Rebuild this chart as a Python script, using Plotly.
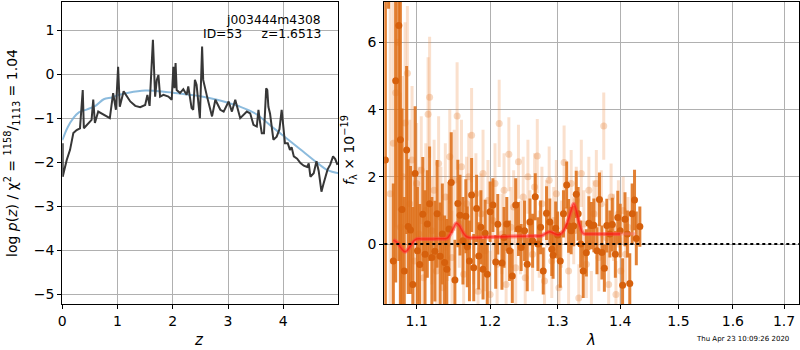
import plotly.graph_objects as go

# ---------------- left panel: log p(z) ----------------
pz_z = [0.0, 0.007, 0.007, 0.08, 0.14, 0.20, 0.26, 0.32, 0.37, 0.39, 0.47, 0.53, 0.56, 0.59, 0.65,
        0.71, 0.80, 0.86, 0.92, 0.97, 1.01, 1.04, 1.11, 1.17, 1.23, 1.32, 1.41, 1.50, 1.54, 1.58,
        1.64, 1.68, 1.71, 1.74, 1.77, 1.83, 1.92, 1.98, 2.01, 2.03, 2.05, 2.07, 2.13, 2.19, 2.25,
        2.28, 2.34, 2.37, 2.40, 2.43, 2.49, 2.53, 2.55, 2.62, 2.71, 2.77, 2.86, 2.92, 3.01, 3.07,
        3.13, 3.22, 3.28, 3.34, 3.40, 3.46, 3.52, 3.55, 3.58, 3.61, 3.65, 3.69, 3.71, 3.73, 3.76,
        3.82, 3.88, 3.93, 3.97, 4.00, 4.03, 4.08, 4.12, 4.15, 4.19, 4.25, 4.31, 4.37, 4.43, 4.46,
        4.49, 4.55, 4.60, 4.64, 4.69, 4.73, 4.80, 4.85, 4.90, 4.94, 4.98]
pz_logp = [-2.20, -1.57, -2.33, -1.95, -1.72, -1.34, -1.27, -1.23, -0.36, -1.23, -1.11, -1.04, -0.58,
           -1.11, -0.85, -0.89, -0.96, -1.00, -0.43, -0.81, 0.17, -0.74, -0.39, -0.51, -0.62, -0.72,
           -0.75, -0.70, -0.47, -0.72, 0.78, -0.51, -0.13, -0.02, -0.51, -0.47, -0.51, -0.58, 0.17,
           -0.32, 0.25, -0.36, -0.43, -0.34, -0.47, -0.28, -0.77, -0.81, -0.13, -0.24, -1.00, 0.63,
           -0.13, -0.51, -0.96, -0.58, -0.81, -0.85, -0.62, -0.85, -0.58, -1.00, -0.92, -0.85, -0.89,
           -1.15, -1.19, -0.81, -1.10, -1.34, -1.34, -0.32, -0.36, -0.74, -0.90, -1.49, -1.42, -1.25,
           -0.81, -1.25, -1.57, -1.57, -1.72, -1.66, -1.87, -1.92, -2.02, -2.08, -2.11, -2.03, -2.33,
           -2.25, -1.98, -2.20, -2.67, -2.48, -2.17, -2.05, -1.87, -1.93, -2.06]

prior_z = [0.0, 0.1, 0.2, 0.3, 0.45, 0.6, 0.75, 0.9, 1.0, 1.2, 1.5, 1.7, 2.0, 2.5, 2.8, 3.0, 3.2,
           3.5, 3.8, 4.0, 4.3, 4.6, 4.8, 5.0]
prior_logp = [-1.50, -1.20, -1.00, -0.87, -0.80, -0.72, -0.57, -0.53, -0.48, -0.42, -0.37, -0.38,
              -0.42, -0.50, -0.58, -0.65, -0.73, -0.90, -1.20, -1.40, -1.70, -2.00, -2.18, -2.25]

# ---------------- right panel: spectrum ----------------
good_wave = [1.060, 1.064, 1.070, 1.073, 1.077, 1.079, 1.081, 1.084, 1.087, 1.089, 1.092, 1.095,
             1.098, 1.101, 1.104, 1.108, 1.111, 1.114, 1.117, 1.120, 1.124, 1.127, 1.131, 1.134,
             1.137, 1.140, 1.143, 1.146, 1.151, 1.155, 1.158, 1.162, 1.166, 1.168, 1.171, 1.174,
             1.177, 1.181, 1.184, 1.187, 1.190, 1.193, 1.196, 1.200, 1.204, 1.208, 1.211, 1.217,
             1.220, 1.224, 1.228, 1.232, 1.237, 1.241, 1.245, 1.250, 1.254, 1.258, 1.262, 1.266,
             1.270, 1.274, 1.278, 1.283, 1.288, 1.291, 1.293, 1.297, 1.300, 1.304, 1.309, 1.314,
             1.317, 1.321, 1.325, 1.329, 1.332, 1.336, 1.340, 1.345, 1.349, 1.353, 1.357, 1.362,
             1.366, 1.370, 1.374, 1.378, 1.383, 1.387, 1.392, 1.396, 1.400, 1.404, 1.408, 1.412,
             1.416, 1.420, 1.424, 1.427, 1.433]
good_flux = [2.5, 9.0, -0.5, 4.86, 6.5, 3.1, 1.03, -0.8, 2.8, 0.52, 0.42, -1.2,
             2.1, -0.2, -0.61, 0.89, -0.3, 0.6, 1.2, -0.4, -0.21, 0.9, -0.36, 0.3,
             -0.55, -0.75, 0.45, 1.83, -1.07, 1.21, 0.86, 0.1, 0.83, -0.08, -0.5, 1.46,
             -0.7, 1.06, -0.35, 0.5, -0.75, 0.32, -0.9, 0.96, 1.16, -0.53, 0.59, -0.56,
             0.2, 0.6, -0.2, -0.95, 1.16, 0.45, -0.1, 0.4, -0.6, 0.66, 0.1, 1.41,
             0.0, 0.5, -0.8, 0.92, 0.66, -0.15, -0.33, 0.47, 0.27, -0.5, 0.9, 1.76,
             0.54, 0.4, 0.54, 1.48, 0.9, 0.0, -0.8, -0.26, 0.62, 0.55, 0.56, -0.2,
             1.33, -0.25, -0.72, 0.55, 0.3, 0.58, -0.3, 0.79, 0.4, -1.22, 0.74, 0.3,
             -1.17, 0.9, 1.31, 0.17, 0.52]
good_err = [9.0, 2.0, 2.3, 6.0, 7.0, 5.0, 3.0, 2.2, 2.5, 2.0, 1.9, 2.3,
            2.0, 1.9, 1.8, 1.7, 1.9, 1.6, 1.7, 1.8, 1.5, 1.6, 1.6, 1.5,
            1.4, 1.5, 1.4, 1.5, 1.2, 1.3, 1.2, 1.3, 1.1, 1.2, 1.2, 1.1,
            1.0, 1.0, 1.0, 1.1, 0.9, 1.0, 0.9, 0.9, 0.8, 0.8, 0.9, 0.8,
            0.9, 0.8, 0.9, 0.8, 0.8, 0.8, 0.7, 0.9, 0.8, 0.7, 0.8, 0.7,
            0.8, 0.8, 0.7, 0.8, 0.7, 0.8, 0.7, 0.8, 0.7, 0.8, 0.7, 0.7,
            0.8, 0.7, 0.6, 0.7, 0.8, 0.7, 0.8, 0.7, 0.8, 0.7, 0.8, 0.7,
            0.8, 0.8, 0.7, 0.8, 0.7, 0.8, 0.7, 0.8, 0.8, 0.8, 0.8, 0.7,
            0.9, 0.9, 0.9, 0.8, 0.6]

faint_wave = [1.066, 1.070, 1.073, 1.076, 1.079, 1.082, 1.085, 1.088, 1.091, 1.094, 1.097, 1.100,
              1.103, 1.106, 1.109, 1.112, 1.115, 1.117, 1.120, 1.123, 1.126, 1.129, 1.132, 1.135,
              1.138, 1.141, 1.144, 1.147, 1.150, 1.154, 1.157, 1.160, 1.163, 1.167, 1.170, 1.174,
              1.177, 1.180, 1.183, 1.187, 1.190, 1.193, 1.197, 1.200, 1.204, 1.207, 1.210, 1.213,
              1.217, 1.220, 1.223, 1.227, 1.230, 1.234, 1.237, 1.241, 1.244, 1.248, 1.251, 1.255,
              1.258, 1.262, 1.265, 1.269, 1.272, 1.276, 1.280, 1.283, 1.287, 1.291, 1.294, 1.298,
              1.302, 1.306, 1.310, 1.313, 1.317, 1.321, 1.325, 1.329, 1.333, 1.337, 1.341, 1.345,
              1.349, 1.353, 1.357, 1.361, 1.365, 1.369, 1.373, 1.377, 1.381, 1.385, 1.389, 1.393,
              1.397, 1.401, 1.405, 1.409, 1.413]
faint_flux = [1.5, 3.0, 4.5, 6.0, 0.5, 2.0, 3.6, 5.08, 1.2, 2.5, -0.5, 1.8,
              0.3, 2.2, -1.0, 1.0, 3.86, 4.37, 0.4, 1.6, -0.8, 2.4, 0.8, -1.3,
              1.4, 0.2, 2.6, -0.4, 1.9, 3.81, 0.6, 2.3, -0.9, 1.2, 2.0, 3.24,
              0.1, 1.5, -1.4, 0.9, 2.1, -0.2, 1.3, -1.5, 0.7, 1.8, -0.6, 3.59,
              0.3, 1.6, -1.2, 2.67, 0.5, 1.1, -0.7, 2.45, 0.2, 1.4, -1.0, 2.0,
              0.6, -0.3, 1.7, 2.62, 0.0, 1.2, -1.1, 0.9, 1.9, -0.5, 0.7, 1.5,
              -1.3, 0.3, 2.43, 1.0, -0.8, 1.8, 0.4, 1.3, -1.6, 2.1, 0.6, -0.6,
              1.6, -1.9, 0.9, 1.8, -0.4, 1.2, 3.51, 0.2, -1.2, 1.4, 0.5, -1.5,
              0.9, -0.8, 1.0, -0.3, 0.5]
faint_err = [8.0, 6.0, 4.0, 5.0, 4.0, 3.0, 3.0, 2.0, 2.5, 2.2, 2.4, 1.8,
             2.0, 1.6, 1.8, 2.0, 1.7, 1.8, 1.6, 1.5, 1.6, 1.4, 1.5, 1.5,
             1.6, 1.3, 1.4, 1.4, 1.5, 1.6, 1.3, 1.4, 1.3, 1.4, 1.3, 1.4,
             1.3, 1.2, 1.3, 1.2, 1.3, 1.2, 1.2, 1.3, 1.2, 1.2, 1.2, 1.3,
             1.2, 1.1, 1.2, 1.1, 1.2, 1.1, 1.2, 1.1, 1.1, 1.2, 1.1, 1.1,
             1.0, 1.1, 1.0, 1.1, 1.0, 1.1, 1.0, 1.0, 1.0, 1.1, 1.0, 1.0,
             1.0, 1.0, 1.1, 1.0, 1.0, 1.0, 1.0, 1.0, 1.0, 1.0, 1.0, 1.0,
             1.0, 1.1, 1.0, 1.0, 1.0, 1.0, 1.0, 1.0, 1.0, 1.0, 1.0, 1.0,
             1.0, 1.0, 1.0, 0.9, 0.9]

model_wave = [1.070, 1.075, 1.080, 1.085, 1.090, 1.095, 1.100, 1.110, 1.120, 1.130, 1.140, 1.145,
              1.150, 1.153, 1.157, 1.162, 1.167, 1.172, 1.180, 1.200, 1.220, 1.240, 1.260, 1.275,
              1.283, 1.288, 1.293, 1.300, 1.306, 1.312, 1.317, 1.321, 1.325, 1.329, 1.334, 1.340,
              1.350, 1.370, 1.390, 1.400]
model_flux = [0.12, 0.05, -0.12, -0.23, -0.12, 0.05, 0.15, 0.15, 0.15, 0.16, 0.17, 0.30,
              0.52, 0.62, 0.55, 0.35, 0.22, 0.19, 0.20, 0.21, 0.22, 0.23, 0.24, 0.25,
              0.33, 0.37, 0.33, 0.28, 0.32, 0.50, 0.75, 1.00, 1.20, 1.00, 0.60, 0.32,
              0.30, 0.30, 0.30, 0.30]
model2_wave = [1.390, 1.400, 1.410, 1.420, 1.426]
model2_flux = [0.30, 0.30, 0.30, 0.31, 0.31]

z_ticks = [0, 1, 2, 3, 4]
logp_ticks = [-5, -4, -3, -2, -1, 0, 1]
wave_ticks = [1.1, 1.2, 1.3, 1.4, 1.5, 1.6, 1.7]
flux_ticks = [0, 2, 4, 6]

fig = go.Figure()

fig.add_trace(go.Scatter(x=prior_z, y=prior_logp, mode="lines", line=dict(color="rgba(120,175,215,0.85)", width=2, shape="spline"),
                         xaxis="x", yaxis="y", showlegend=False))
fig.add_trace(go.Scatter(x=pz_z, y=pz_logp, mode="lines", line=dict(color="rgb(55,55,55)", width=2),
                         xaxis="x", yaxis="y", showlegend=False))

fig.add_trace(go.Scatter(x=faint_wave, y=faint_flux, mode="markers",
                         marker=dict(size=7, color="rgba(230,125,50,0.3)"),
                         error_y=dict(type="data", array=faint_err, color="rgba(235,140,70,0.27)", thickness=3, width=0),
                         xaxis="x2", yaxis="y2", showlegend=False))
fig.add_trace(go.Scatter(x=good_wave, y=good_flux, mode="markers",
                         marker=dict(size=7, color="rgb(214,96,12)"),
                         error_y=dict(type="data", array=good_err, color="rgba(222,112,25,0.88)", thickness=3, width=0),
                         xaxis="x2", yaxis="y2", showlegend=False))
fig.add_trace(go.Scatter(x=model2_wave, y=model2_flux, mode="lines", line=dict(color="rgba(255,120,120,0.45)", width=3),
                         xaxis="x2", yaxis="y2", showlegend=False))
fig.add_trace(go.Scatter(x=model_wave, y=model_flux, mode="lines", line=dict(color="rgba(255,60,60,0.55)", width=4, shape="spline"),
                         xaxis="x2", yaxis="y2", showlegend=False))
fig.add_trace(go.Scatter(x=model_wave, y=model_flux, mode="lines", line=dict(color="rgba(255,0,0,0.5)", width=1.5, shape="spline"),
                         xaxis="x2", yaxis="y2", showlegend=False))

axis_common = dict(showline=True, linecolor="black", linewidth=1, mirror=True, ticks="outside",
                   ticklen=4, tickcolor="black", showgrid=True, gridcolor="#b0b0b0", gridwidth=1,
                   zeroline=False, automargin=False,
                   tickfont=dict(family="DejaVu Sans", size=14, color="black"))

fig.update_layout(
    template="none",
    width=800, height=350, margin=dict(l=0, r=0, t=0, b=0, pad=0),
    paper_bgcolor="white", plot_bgcolor="white",
    font=dict(family="DejaVu Sans", size=14, color="black"),
    xaxis=dict(domain=[62.3 / 800, 338.3 / 800], range=[0, 4.995], tickvals=z_ticks, anchor="y", **axis_common),
    yaxis=dict(domain=[(350 - 304.3) / 350, (350 - 2) / 350], range=[-5.23, 1.64], tickvals=logp_ticks, anchor="x", **axis_common),
    xaxis2=dict(domain=[384.3 / 800, 799.3 / 800], type="log", range=[0.02474, 0.2383], tickvals=wave_ticks,
                ticktext=[f"{v:.1f}" for v in wave_ticks], anchor="y2", **axis_common),
    yaxis2=dict(domain=[(350 - 304.3) / 350, (350 - 2) / 350], range=[-1.79, 7.2], tickvals=flux_ticks, anchor="x2", **axis_common),
    shapes=[dict(type="line", xref="x2 domain", x0=0, x1=1, yref="y2", y0=0, y1=0,
                 line=dict(color="black", width=2, dash="dot"), layer="above")],
)

ann = [
    dict(text="j003444m4308", x=323 / 800, y=1 - 20 / 350, xanchor="right", yanchor="middle", font=dict(size=12.3)),
    dict(text="ID=53     z=1.6513", x=323 / 800, y=1 - 34 / 350, xanchor="right", yanchor="middle", font=dict(size=12.3)),
    dict(text="log <i>p</i>(<i>z</i>) / χ<sup>2</sup> = <sup>1158</sup>/<sub>1113</sub> = 1.04", x=12 / 800, y=1 - 153 / 350,
         textangle=-90, xanchor="center", yanchor="middle", font=dict(size=14)),
    dict(text="<i>z</i>", x=199 / 800, y=1 - 340 / 350, xanchor="center", yanchor="middle", font=dict(size=15)),
    dict(text="<i>λ</i>", x=591 / 800, y=1 - 340 / 350, xanchor="center", yanchor="middle", font=dict(size=15)),
    dict(text="<i>f</i><sub>λ</sub> × 10<sup>−19</sup>", x=349 / 800, y=1 - 150 / 350, textangle=-90,
         xanchor="center", yanchor="middle", font=dict(size=14)),
    dict(text="Thu Apr 23 10:09:26 2020", x=742 / 800, y=1 - 339 / 350, xanchor="center", yanchor="middle", font=dict(size=7)),
]
for a in ann:
    a.update(xref="paper", yref="paper", showarrow=False)
fig.update_layout(annotations=ann)

fig.write_html("out.html", config={"displayModeBar": False},
               post_script="document.body.style.margin='0px';document.body.style.overflow='hidden';")
